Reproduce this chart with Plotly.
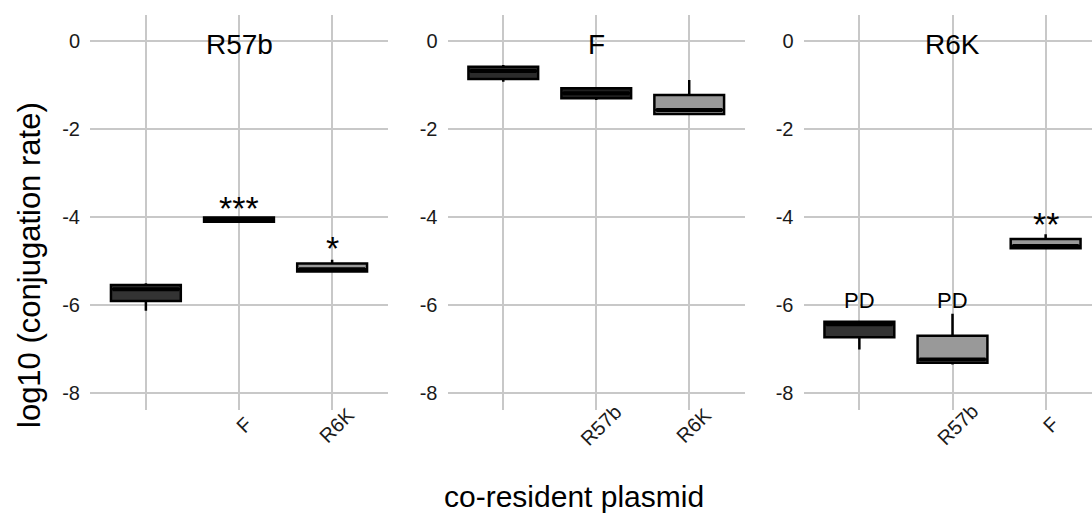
import plotly.graph_objects as go

W, H = 1092, 514

# ---- data -----------------------------------------------------------------
panel_titles = ["R57b", "F", "R6K"]
categories = [0, 1, 2]
tick_labels = [["", "F", "R6K"], ["", "R57b", "R6K"], ["", "R57b", "F"]]

lower_whisker = [[-6.13, -4.11, -5.24], [-0.925, -1.34, -1.68], [-7.01, -7.35, -4.71]]
q1_vals = [[-5.91, -4.11, -5.24], [-0.864, -1.30, -1.659], [-6.73, -7.31, -4.71]]
median_vals = [[-5.64, -4.06, -5.19], [-0.68, -1.19, -1.568], [-6.44, -7.24, -4.66]]
q3_vals = [[-5.545, -4.01, -5.057], [-0.584, -1.075, -1.227], [-6.38, -6.70, -4.50]]
upper_whisker = [[-5.507, -4.01, -4.97], [-0.545, -1.05, -0.886], [-6.38, -6.20, -4.39]]
fill_colors = [["#333333", "#1f1f1f", "#999999"],
               ["#2b2b2b", "#1f1f1f", "#999999"],
               ["#333333", "#999999", "#999999"]]

sig_labels = [["", "***", "*"], ["", "", ""], ["PD", "PD", "**"]]
sig_y = [[None, -3.80, -4.70], [None, None, None], [-5.90, -5.90, -4.16]]

y_ticks = [-8, -6, -4, -2, 0]
y_ticktext = ["-8", "-6", "-4", "-2", "0"]

x_title = "co-resident plasmid"
y_title = "log10 (conjugation rate)"

# ---- layout geometry --------------------------------------------------------
x_domains = [[90 / W, 388 / W], [447.5 / W, 745 / W], [803.5 / W, 1.0]]
x_ranges = [[-0.6, 2.6], [-0.6, 2.6], [-0.6, 2.498]]
y_domain = [1 - 410 / H, 1 - 15 / H]
y_range = [-8.386, 0.591]

FONT = "Liberation Sans"
GRID = "#c8c8c8"
BOX_W = 0.75
TICK_SIZE = 20

fig = go.Figure()

for p in range(3):
    ax = "" if p == 0 else str(p + 1)
    for i, c in enumerate(categories):
        fig.add_trace(go.Box(
            x=[c], q1=[q1_vals[p][i]], median=[median_vals[p][i]], q3=[q3_vals[p][i]],
            lowerfence=[lower_whisker[p][i]], upperfence=[upper_whisker[p][i]],
            width=BOX_W, fillcolor=fill_colors[p][i],
            line=dict(color="black", width=2.5), whiskerwidth=0,
            boxpoints=False, showlegend=False, hoverinfo="skip",
            xaxis="x" + ax, yaxis="y" + ax,
        ))
        # thicker median line (ggplot fatten)
        fig.add_trace(go.Scatter(
            x=[c - BOX_W / 2 + 0.02, c + BOX_W / 2 - 0.02],
            y=[median_vals[p][i], median_vals[p][i]],
            mode="lines", line=dict(color="black", width=4),
            showlegend=False, hoverinfo="skip",
            xaxis="x" + ax, yaxis="y" + ax,
        ))

    fig.layout["xaxis" + ax] = dict(
        domain=x_domains[p], range=x_ranges[p], anchor="y" + ax,
        tickvals=categories, showticklabels=False, showgrid=True,
        gridcolor=GRID, gridwidth=1.6, zeroline=False, showline=False, ticks="",
    )
    fig.layout["yaxis" + ax] = dict(
        domain=y_domain, range=y_range, anchor="x" + ax,
        tickvals=y_ticks, ticktext=y_ticktext, showgrid=True,
        gridcolor=GRID, gridwidth=1.6, zeroline=False, showline=False, ticks="",
        ticklabelstandoff=9, tickfont=dict(family=FONT, size=TICK_SIZE, color="#1a1a1a"),
    )

annotations = []
for p in range(3):
    ax = "" if p == 0 else str(p + 1)
    # panel title
    annotations.append(dict(
        text=panel_titles[p], x=1, xref="x" + ax, y=1 - 44 / H, yref="paper",
        showarrow=False, xanchor="center", yanchor="middle",
        font=dict(family=FONT, size=28, color="black"),
    ))
    # rotated x tick labels
    for i, c in enumerate(categories):
        if tick_labels[p][i]:
            annotations.append(dict(
                text=tick_labels[p][i], x=c, xref="x" + ax, xshift=5,
                y=1 - 425 / H, yref="paper", textangle=-45,
                showarrow=False, xanchor="center", yanchor="middle",
                font=dict(family=FONT, size=TICK_SIZE, color="#1a1a1a"),
            ))
        if sig_labels[p][i]:
            lab = sig_labels[p][i]
            annotations.append(dict(
                text=lab, x=c, xref="x" + ax, y=sig_y[p][i], yref="y" + ax,
                showarrow=False, xanchor="center", yanchor="middle",
                font=dict(family=FONT, size=34 if "*" in lab else 22, color="black"),
            ))

annotations.append(dict(
    text=x_title, x=574 / W, xref="paper", y=1 - 496 / H, yref="paper",
    showarrow=False, xanchor="center", yanchor="middle",
    font=dict(family=FONT, size=30, color="black"),
))
annotations.append(dict(
    text=y_title, x=29 / W, xref="paper", y=1 - 265 / H, yref="paper",
    showarrow=False, xanchor="center", yanchor="middle", textangle=-90,
    font=dict(family=FONT, size=31, color="black"),
))

fig.update_layout(
    width=W, height=H, margin=dict(l=0, r=0, t=0, b=0),
    paper_bgcolor="white", plot_bgcolor="white",
    boxmode="overlay", annotations=annotations,
    font=dict(family=FONT),
)

fig.write_html("out.html")
